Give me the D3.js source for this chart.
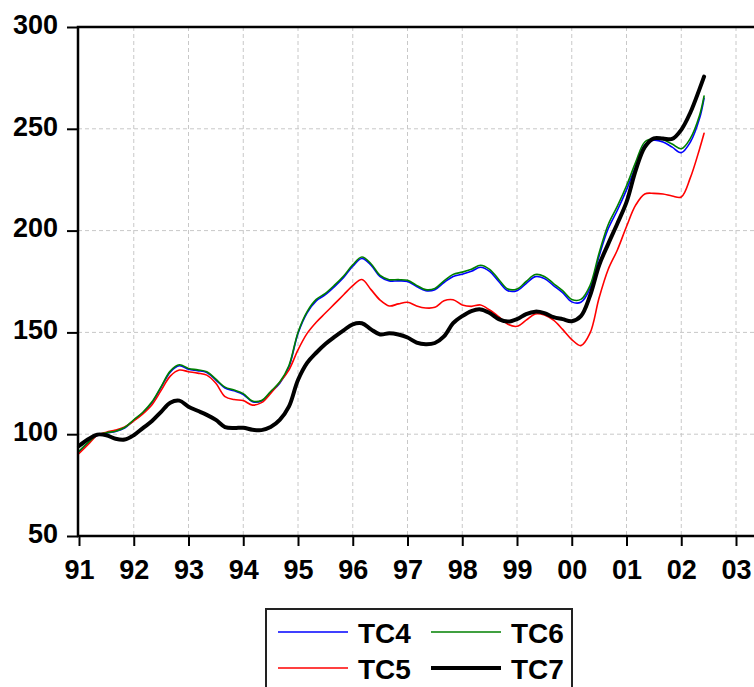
<!DOCTYPE html>
<html>
<head>
<meta charset="utf-8">
<script src="https://cdn.jsdelivr.net/npm/d3@7"></script>
<style>
  html, body { margin: 0; padding: 0; background: #fff; }
  svg { display: block; }
  text { font-family: "Liberation Sans", Arial, sans-serif; font-weight: bold; fill: #000; }
</style>
</head>
<body>
<svg id="chart" width="754" height="687"></svg>
<script>
// Observation dates (decimal years, every second month Jan 1991 .. May 2002, then Jun 2002)
const months = d3.range(0, 137, 2).concat([137]);
const dates = months.map(m => 1991 + m / 12);

const tc4 = [91.4, 95.8, 99.4, 100.5, 101.3, 103, 106.8, 110.5, 115.5, 123, 130.5, 133.6,
  131.9, 131.2, 130.3, 126.6, 122.7, 121.3, 119.5, 116, 116.3, 120.5, 125, 133,
  149.5, 159.6, 165.5, 168.5, 172.5, 177, 182.5, 186.3, 183, 177.4, 175.3, 175.3,
  175, 172.5, 170.5, 171, 174.5, 177.5, 178.6, 180, 182, 180, 175, 170.5,
  170.5, 174, 177.4, 176.5, 173, 169.5, 165, 164.8, 171.5, 187.5, 201, 210,
  220, 231.5, 242, 244.4, 243.5, 241, 238.3, 243.5, 255, 265];

const tc5 = [90.5, 95, 99.5, 101, 102, 103.5, 106.5, 110, 114.5, 121.5, 128.5, 131.5,
  130.7, 130, 129, 125, 118.5, 117, 116.5, 114.3, 115.5, 120, 125.5, 131.5,
  141.4, 149.5, 155, 159.5, 164, 168.5, 173, 176, 171, 165.9, 163, 164,
  164.8, 163, 162, 162.3, 165.5, 166, 163.5, 162.8, 163.5, 161, 157.7, 154,
  153, 156, 159, 158.5, 156, 151.5, 146.5, 143.5, 149.6, 167, 181, 190.5,
  202, 212.5, 218, 218.3, 218, 217, 216.5, 226, 240, 247.8];

const tc6 = [91.6, 96, 99.6, 100.7, 101.5, 103.3, 107.1, 110.8, 115.9, 123.4, 131, 134.1,
  132.3, 131.6, 130.7, 127, 123.1, 121.7, 119.9, 116.3, 116.6, 121, 125.6, 133.6,
  150, 160.2, 166.2, 169.2, 173.2, 177.7, 183.2, 187, 183.7, 178, 175.9, 175.9,
  175.6, 173.1, 171, 171.6, 175.3, 178.5, 179.6, 181, 183, 181, 176, 171.3,
  171.3, 175, 178.4, 177.5, 174, 170.5, 166.2, 166.2, 173, 189, 203, 212,
  222, 233.5, 243.5, 245.2, 244.6, 242.5, 240.2, 245.3, 256.5, 266.1];

const tc7 = [94.2, 97.5, 99.8, 99.5, 97.8, 97.4, 99.5, 103, 106.5, 111, 115.5, 116.5,
  113.5, 111.5, 109.5, 107, 103.5, 103, 103.2, 102.2, 102, 103.5, 107, 113.5,
  126.6, 135, 140, 144.3, 147.8, 151, 154, 154.5, 151.5, 149, 149.6, 149,
  147.5, 145, 144.2, 144.8, 148, 154.5, 158, 160.5, 161.3, 159.5, 156.5, 155.3,
  156.5, 159, 160.2, 159.5, 157.5, 156.5, 155.5, 158, 168, 183, 193.5, 203.5,
  214, 229.5, 241, 245.3, 245.2, 245, 249.5, 258, 269.5, 275.6];

const yearTicks = d3.range(1991, 2004);
const yTicks = [50, 100, 150, 200, 250, 300];
const seriesNames = ["TC4", "TC5", "TC6", "TC7"];
const seriesValues = [tc4, tc5, tc6, tc7];
const seriesColors = ["#0000ff", "#ff0000", "#008000", "#000000"];
const seriesWidths = [1.6, 1.6, 1.6, 4];

const svg = d3.select("#chart");
const plotLeft = 78, plotTop = 27, plotBottom = 536, plotRight = 770;

const x = d3.scaleLinear().domain([1991, 2003]).range([79, 736]);
const y = d3.scaleLinear().domain([50, 300]).range([plotBottom, plotTop]);

// grid
const grid = svg.append("g").attr("stroke", "#c8c8c8").attr("stroke-width", 1)
  .attr("stroke-dasharray", "4,3");
grid.selectAll("line.v").data(yearTicks.slice(1)).join("line").attr("class", "v")
  .attr("x1", d => x(d)).attr("x2", d => x(d)).attr("y1", plotTop).attr("y2", plotBottom);
grid.selectAll("line.h").data(yTicks.slice(1, -1)).join("line").attr("class", "h")
  .attr("x1", plotLeft).attr("x2", plotRight).attr("y1", d => y(d)).attr("y2", d => y(d));

// series
const line = d3.line()
  .x((d, i) => x(dates[i]))
  .y(d => y(d))
  .curve(d3.curveCatmullRom.alpha(0.5));

seriesValues.forEach((vals, k) => {
  svg.append("path")
    .datum(vals)
    .attr("fill", "none")
    .attr("stroke", seriesColors[k])
    .attr("stroke-width", seriesWidths[k])
    .attr("stroke-linejoin", "round")
    .attr("stroke-linecap", "round")
    .attr("d", line);
});

// frame
svg.append("path")
  .attr("d", `M${plotRight},${plotTop}H${plotLeft}V${plotBottom}H${plotRight}`)
  .attr("fill", "none").attr("stroke", "#000").attr("stroke-width", 2.5);

// axes
const yAxis = svg.append("g").attr("transform", `translate(${plotLeft},0)`)
  .call(d3.axisLeft(y).tickValues(yTicks).tickSize(11).tickPadding(9));
yAxis.select(".domain").remove();
yAxis.selectAll(".tick line").attr("stroke", "#000").attr("stroke-width", 2);
yAxis.selectAll(".tick text").attr("font-size", 27).attr("dy", "0.23em")
  .style("font-family", "'Liberation Sans', Arial, sans-serif").style("font-weight", "bold");

const xAxis = svg.append("g").attr("transform", `translate(0,${plotBottom})`)
  .call(d3.axisBottom(x).tickValues(yearTicks).tickSize(10).tickPadding(14)
    .tickFormat(d => String(d % 100).padStart(2, "0")));
xAxis.select(".domain").remove();
xAxis.selectAll(".tick line").attr("stroke", "#000").attr("stroke-width", 2);
xAxis.selectAll(".tick text").attr("font-size", 27)
  .style("font-family", "'Liberation Sans', Arial, sans-serif").style("font-weight", "bold");

// legend
const legend = svg.append("g");
legend.append("rect").attr("x", 266).attr("y", 609).attr("width", 306).attr("height", 100)
  .attr("fill", "#fff").attr("stroke", "#222").attr("stroke-width", 2);
const legendPos = [[0, 0], [0, 1], [1, 0], [1, 1]];
seriesNames.forEach((name, k) => {
  const [col, row] = legendPos[k];
  const lx = 278 + col * 153, ly = 632 + row * 36;
  legend.append("line").attr("x1", lx).attr("x2", lx + 70).attr("y1", ly).attr("y2", ly)
    .attr("stroke", seriesColors[k]).attr("stroke-width", k === 3 ? 4 : 1.6);
  legend.append("text").attr("x", lx + 80).attr("y", ly + 11).attr("font-size", 28).text(name);
});
</script>
</body>
</html>
